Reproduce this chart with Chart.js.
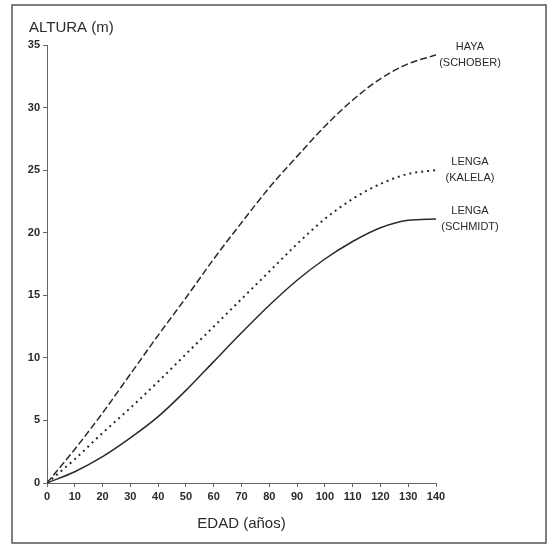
<!DOCTYPE html>
<html>
<head>
<meta charset="utf-8">
<script src="https://cdn.jsdelivr.net/npm/chart.js@4/dist/chart.umd.min.js"></script>
<style>
  html, body { margin: 0; padding: 0; background: #fff; }
  #wrap { width: 548px; height: 545px; }
</style>
</head>
<body>
<div id="wrap"><canvas id="myChart" width="548" height="545"></canvas></div>
<script>
const ages = [0, 10, 20, 30, 40, 50, 60, 70, 80, 90, 100, 110, 120, 130, 140];
const hayaSchober = [0, 2.7, 5.6, 8.7, 11.8, 14.8, 17.9, 20.8, 23.6, 26.1, 28.5, 30.6, 32.3, 33.5, 34.2];
const lengaKalela = [0, 1.9, 4.0, 6.0, 8.1, 10.3, 12.5, 14.7, 16.9, 19.1, 21.1, 22.7, 23.9, 24.7, 25.0];
const lengaSchmidt = [0, 0.9, 2.1, 3.6, 5.3, 7.4, 9.7, 12.0, 14.2, 16.2, 17.9, 19.3, 20.4, 21.0, 21.1];
const seriesLabels = [['HAYA', '(SCHOBER)'], ['LENGA', '(KALELA)'], ['LENGA', '(SCHMIDT)']];
const yTitle = 'ALTURA (m)';
const xTitle = 'EDAD (años)';

const toPoints = (vals) => vals.map((v, i) => ({ x: ages[i], y: v }));

const ink = '#2a2a2a';

// frame, top-left axis title and curve labels
const extras = {
  id: 'extras',
  afterDraw(chart) {
    const ctx = chart.ctx;
    const xs = chart.scales.x, ys = chart.scales.y;
    ctx.save();
    ctx.strokeStyle = '#555';
    ctx.lineWidth = 1.5;
    ctx.strokeRect(12, 5, 534, 538);

    ctx.fillStyle = ink;
    ctx.font = '15px "Liberation Sans", Arial, sans-serif';
    ctx.textAlign = 'left';
    ctx.textBaseline = 'middle';
    ctx.fillText(yTitle, 29, 28);

    ctx.font = '11px "Liberation Sans", Arial, sans-serif';
    ctx.textAlign = 'center';
    chart.data.datasets.forEach((ds, i) => {
      const last = ds.data[ds.data.length - 1];
      const px = xs.getPixelForValue(last.x) + 34;
      const py = ys.getPixelForValue(last.y);
      ctx.fillText(seriesLabels[i][0], px, py - 8);
      ctx.fillText(seriesLabels[i][1], px, py + 8);
    });
    ctx.restore();
  }
};

const lineStyle = (data, dash, width) => ({
  data: toPoints(data),
  borderColor: ink,
  borderWidth: width,
  borderDash: dash,
  pointRadius: 0,
  fill: false,
  cubicInterpolationMode: 'monotone',
});

new Chart(document.getElementById('myChart'), {
  type: 'line',
  data: {
    datasets: [
      lineStyle(hayaSchober, [7, 3], 1.5),
      lineStyle(lengaKalela, [2, 4], 2),
      lineStyle(lengaSchmidt, [], 1.5),
    ],
  },
  options: {
    responsive: false,
    animation: false,
    layout: { padding: { top: 45, right: 112, left: 0, bottom: 0 } },
    plugins: { legend: { display: false }, tooltip: { enabled: false } },
    scales: {
      x: {
        type: 'linear',
        min: 0,
        max: 140,
        ticks: {
          stepSize: 10,
          color: ink,
          font: { size: 11, family: '"Liberation Sans", Arial, sans-serif', weight: 'bold' },
          padding: 3,
          maxRotation: 0,
        },
        grid: { drawOnChartArea: false, tickLength: 4, color: '#666' },
        border: { color: '#666', width: 1 },
        title: {
          display: true,
          text: xTitle,
          color: ink,
          font: { size: 15, family: '"Liberation Sans", Arial, sans-serif' },
          padding: { top: 6, bottom: 12 },
        },
        afterFit: (s) => { s.height = 62; },
      },
      y: {
        min: 0,
        max: 35,
        ticks: {
          stepSize: 5,
          color: ink,
          font: { size: 11, family: '"Liberation Sans", Arial, sans-serif', weight: 'bold' },
          padding: 3,
        },
        grid: { drawOnChartArea: false, tickLength: 4, color: '#666' },
        border: { color: '#666', width: 1 },
        afterFit: (s) => { s.width = 47; },
      },
    },
  },
  plugins: [extras],
});
</script>
</body>
</html>
